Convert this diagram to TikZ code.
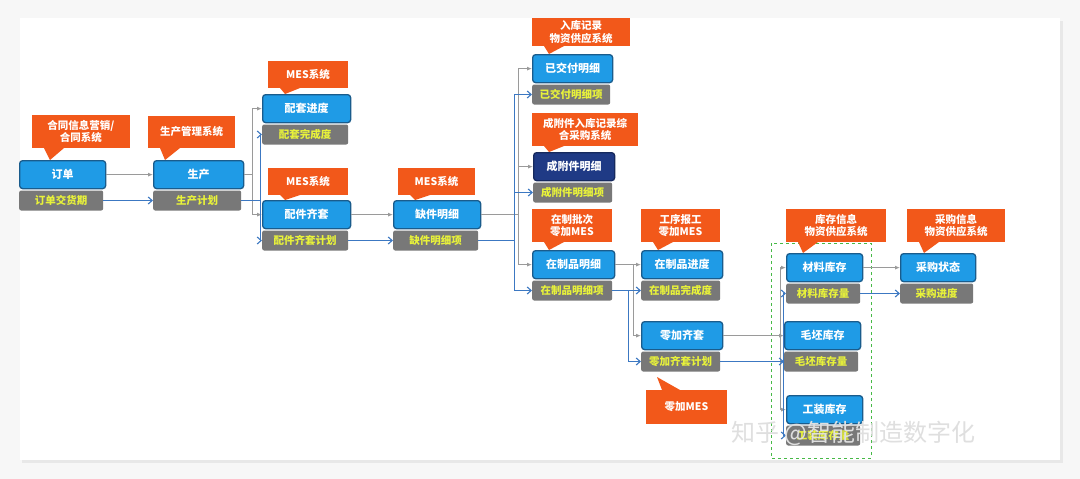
\documentclass[tikz,border=0pt]{standalone}
\usepackage{fontspec}
\setmainfont{Noto Sans CJK SC}
\usetikzlibrary{arrows.meta,calc}
\definecolor{bbl}{HTML}{1F9BE6}
\definecolor{bbd}{HTML}{1A5C8C}
\definecolor{nav}{HTML}{1F3A85}
\definecolor{gry}{HTML}{787878}
\definecolor{ylw}{HTML}{E8F23A}
\definecolor{org}{HTML}{F2581A}
\definecolor{arb}{HTML}{3C78C2}
\definecolor{arg}{HTML}{9A9A9A}
\tikzset{
 bl/.style={fill=bbl,draw=bbd,line width=1.3pt,rounded corners=3pt,minimum height=28pt,text=white,font=\bfseries\fontsize{11}{13}\selectfont,inner sep=0pt},
 nv/.style={bl,fill=nav,draw=nav!70!black},
 gb/.style={fill=gry,rounded corners=2pt,minimum height=20pt,text=ylw,font=\bfseries\fontsize{10.5}{12}\selectfont,inner sep=0pt},
 co/.style={text=white,font=\bfseries\fontsize{10.5}{12.5}\selectfont,align=center,inner sep=0pt},
 ga/.style={draw=arg,line width=0.9pt,-{Latex[length=5pt,width=4pt]}},
 ba/.style={draw=arb,line width=1.1pt,-{Straight Barb[length=4pt,width=7pt]}},
}
\newcommand\pairbx[7][bl]{%
 \node[#1,anchor=north west,minimum width=#5pt] (#2) at (#3,#4) {#6};
 \node[gb,anchor=north west,minimum width=#5pt-2pt,yshift=-1pt] (#2g) at (#2.south west) {#7};}
\newcommand\callout[8]{%
 \fill[org] (#2,#3) rectangle (#4,#5);
 \fill[org] ($(#2,#5)+(12,0)$) -- ($(#2,#5)+(32,0)$) -- (#6,#7) -- cycle;
 \node[co] (#1) at ($(#2,#3)!0.5!(#4,#5)$) {#8};}
\begin{document}
\begin{tikzpicture}[x=1pt,y=-1pt]
\useasboundingbox (0,0) rectangle (1080,479);
\fill[gray!6] (0,0) rectangle (1080,479);
\fill[gray!18] (22,21) rectangle (1063,463);
\fill[white] (20,18) rectangle (1060,460);
\draw[dashed,draw=green!45!gray,line width=0.9pt] (771,243) rectangle (871,458);
\pairbx{dd}{19}{160}{86}{订单}{订单交货期}
\pairbx{sc}{153}{160}{90}{生产}{生产计划}
\pairbx{ptjd}{262}{94}{88}{配套进度}{配套完成度}
\pairbx{pjqt}{262}{200}{88}{配件齐套}{配件齐套计划}
\pairbx{qjmx}{393}{200}{87}{缺件明细}{缺件明细项}
\pairbx{yjf}{532}{54}{80}{已交付明细}{已交付明细项}
\pairbx[nv]{cfj}{533}{152}{81}{成附件明细}{成附件明细项}
\pairbx{zzp}{532}{250}{82}{在制品明细}{在制品明细项}
\pairbx{zzjd}{641}{250}{81}{在制品进度}{在制品完成度}
\pairbx{ljqt}{641}{321}{81}{零加齐套}{零加齐套计划}
\pairbx{clkc}{786}{253}{76}{材料库存}{材料库存量}
\pairbx{mpkc}{784}{321}{76}{毛坯库存}{毛坯库存量}
\pairbx{gzkc}{786}{395}{76}{工装库存}{工装库存量}
\pairbx{cgzt}{900}{253}{75}{采购状态}{采购进度}
\callout{c1}{32}{115}{130}{148}{50}{160}{合同信息营销/\\合同系统}
\callout{c2}{148}{116}{235}{148}{165}{160}{生产管理系统}
\callout{c3}{268}{61}{348}{88}{285}{94}{MES系统}
\callout{c4}{268}{168}{348}{195}{285}{200}{MES系统}
\callout{c5}{398}{168}{475}{195}{415}{200}{MES系统}
\callout{c6}{532}{18}{630}{46}{549}{54}{入库记录\\物资供应系统}
\callout{c7}{532}{113}{638}{146}{549}{152}{成附件入库记录综\\合采购系统}
\callout{c8}{532}{209}{612}{242}{549}{250}{在制批次\\零加MES}
\callout{c9}{641}{209}{720}{242}{658}{250}{工序报工\\零加MES}
\callout{c10}{786}{209}{886}{242}{803}{253}{库存信息\\物资供应系统}
\callout{c11}{907}{209}{1005}{242}{924}{253}{采购信息\\物资供应系统}
\fill[org] (662,390) -- (680,390) -- (657,377) -- cycle;
\fill[org] (646,390) rectangle (727,424);
\node[co] (c12) at (686.5,407) {零加MES};
\draw[ga] (dd.east) -- (sc.west);
\draw[ba] (ddg.east) -- (scg.west);
\coordinate (t1) at ($(sc.east)+(8,0)$);
\draw[ga] (sc.east) -- (t1) |- (ptjd.west);
\draw[ga] (t1) |- (pjqt.west);
\coordinate (t2) at ($(scg.east)+(19,0)$);
\draw[ba] (scg.east) -- (t2) |- (ptjdg.west);
\draw[ba] (t2) |- (pjqtg.west);
\draw[ga] (pjqt.east) -- (qjmx.west);
\draw[ba] (pjqtg.east) -- (qjmxg.west);
\coordinate (t3) at ($(qjmx.east)+(37,0)$);
\draw[ga] (qjmx.east) -- (t3) |- (yjf.west);
\draw[ga] (t3) |- (cfj.west);
\draw[ga] (t3) |- (zzp.west);
\coordinate (t4) at ($(qjmxg.east)+(36,0)$);
\draw[ba] (qjmxg.east) -- (t4) |- (yjfg.west);
\draw[ba] (t4) |- (cfjg.west);
\draw[ba] (t4) |- (zzpg.west);
\coordinate (t5) at ($(zzp.east)+(18,0)$);
\draw[ga] (zzp.east) -- (zzjd.west);
\draw[ga] (t5) |- (ljqt.west);
\coordinate (t6) at ($(zzpg.east)+(16,0)$);
\draw[ba] (zzpg.east) -- (zzjdg.west);
\draw[ba] (t6) |- (ljqtg.west);
\draw[ga] (ljqt.east) -- (mpkc.west);
\coordinate (t7) at ($(ljqt.east)+(57,0)$);
\draw[ga] (t7) |- (clkc.west);
\draw[ga] (t7) |- (gzkc.west);
\draw[ba] (ljqtg.east) -- (mpkcg.west);
\coordinate (t8) at ($(ljqtg.east)+(63,0)$);
\draw[ba] (t8) |- (clkcg.west);
\draw[ba] (t8) |- (gzkcg.west);
\draw[ga] (clkc.east) -- (cgzt.west);
\draw[ba] (clkcg.east) -- (cgztg.west);
\node[text=white!75!gray,font=\fontsize{24}{26}\selectfont,anchor=west] (wm) at (728,433) {知乎 @智能制造数字化};
\end{tikzpicture}
\end{document}
